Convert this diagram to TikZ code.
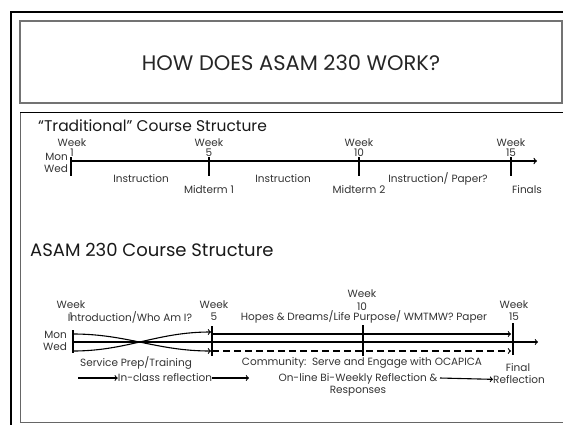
\documentclass[tikz,border=0pt]{standalone}
\usepackage{fontspec}
\setmainfont{Poppins}
\usetikzlibrary{arrows}
\pgfdeclarelayer{nodelayer}
\pgfdeclarelayer{edgelayer}
\pgfsetlayers{edgelayer,nodelayer,main}
\tikzstyle{none}=[fill=none, draw=none, shape=circle, scale=0]
\tikzstyle{small text}=[font=\fontsize{10.5}{12.5}\selectfont, inner sep=0pt, align=center, text=black!80]
\tikzstyle{week text}=[font=\fontsize{10.5}{10.5}\selectfont, inner sep=0pt, align=center, text=black!80]
\tikzstyle{heading}=[font=\fontsize{15.5}{18}\selectfont, inner sep=0pt, anchor=west, text=black!90]
\tikzstyle{title text}=[font=\fontsize{21}{25}\selectfont, inner sep=0pt, text=black!85]
\tikzstyle{tick edge}=[draw=black, line width=1.1pt]
\tikzstyle{time edge}=[draw=black, line width=1.3pt, ->]
\tikzstyle{arrow edge}=[draw=black, line width=1.1pt, ->]
\tikzstyle{dash edge}=[draw=black, line width=1.1pt, dash pattern=on 7pt off 4pt, ->]

\begin{document}
\begin{tikzpicture}[x=10pt, y=10pt]
	\useasboundingbox (0,0) rectangle (56.3,-42.4);
	% slide frames
	\draw [line width=2pt] (1.1,-43) |- (57,-1.2);
	\draw [draw=black!55, line width=1.2pt] (2.0,-10.3) rectangle (56.2,-2.1);
	\draw [draw=black!60, line width=1pt] (57,-42.2) -| (2.0,-11.2);
	\draw [line width=1pt] (2.0,-11.2) -- (57,-11.2);
	\begin{pgfonlayer}{nodelayer}
		\node [style=title text] (0) at (29.1, -6.3) {HOW DOES ASAM 230 WORK?};
		\node [style=heading] (1) at (3.8, -12.6) {“Traditional” Course Structure};
		% traditional
		\node [style=week text] (2) at (7.2, -14.75) {Week\\1};
		\node [style=week text] (3) at (20.9, -14.75) {Week\\5};
		\node [style=week text] (4) at (35.9, -14.75) {Week\\10};
		\node [style=week text] (5) at (51.1, -14.75) {Week\\15};
		\node [style=small text, align=right] (6) at (5.6, -16.3) {Mon\\Wed};
		\node [style=none] (7) at (7.1, -15.7) {};
		\node [style=none] (8) at (7.1, -17.6) {};
		\node [style=none] (9) at (20.9, -15.7) {};
		\node [style=none] (10) at (20.9, -17.6) {};
		\node [style=none] (11) at (35.9, -15.7) {};
		\node [style=none] (12) at (35.9, -17.6) {};
		\node [style=none] (13) at (51.1, -15.7) {};
		\node [style=none] (14) at (51.1, -17.6) {};
		\node [style=none] (15) at (7.1, -16.1) {};
		\node [style=none] (16) at (53.7, -16.1) {};
		\node [style=small text] (17) at (14.1, -17.9) {Instruction};
		\node [style=small text] (18) at (20.9, -19.0) {Midterm 1};
		\node [style=small text] (19) at (28.3, -17.9) {Instruction};
		\node [style=small text] (20) at (35.9, -19.0) {Midterm 2};
		\node [style=small text] (21) at (43.8, -17.9) {Instruction/ Paper?};
		\node [style=small text] (22) at (52.7, -19.0) {Finals};
		% asam 230
		\node [style=heading, font=\fontsize{18}{20}\selectfont] (23) at (3.0, -25.0) {ASAM 230 Course Structure};
		\node [style=small text] (24) at (7.1, -31.05) {Week\\1};
		\node [style=small text] (25) at (13.0, -31.7) {Introduction/Who Am I?};
		\node [style=small text] (26) at (21.4, -31.05) {Week\\5};
		\node [style=small text] (27) at (36.2, -30.0) {Week\\10};
		\node [style=small text] (28) at (36.4, -31.65) {Hopes \& Dreams/Life Purpose/ WMTMW? Paper};
		\node [style=small text] (29) at (51.4, -31.05) {Week\\15};
		\node [style=small text, align=right] (30) at (5.5, -34.1) {Mon\\Wed};
		\node [style=none] (31) at (7.3, -33.0) {};
		\node [style=none] (32) at (7.3, -35.3) {};
		\node [style=none] (33) at (21.2, -32.6) {};
		\node [style=none] (34) at (21.2, -35.6) {};
		\node [style=none] (35) at (36.3, -32.5) {};
		\node [style=none] (36) at (36.3, -35.6) {};
		\node [style=none] (37) at (51.3, -32.3) {};
		\node [style=none] (38) at (51.3, -35.5) {};
		\node [style=none] (39) at (21.2, -33.4) {};
		\node [style=none] (40) at (51.1, -33.4) {};
		\node [style=none] (41) at (7.3, -34.2) {};
		\node [style=none] (42) at (53.8, -34.2) {};
		\node [style=none] (43) at (21.2, -35.1) {};
		\node [style=none] (44) at (51.1, -35.1) {};
		\node [style=none] (45) at (7.3, -33.4) {};
		\node [style=none] (46) at (7.3, -35.1) {};
		\node [style=none] (47) at (21.1, -33.2) {};
		\node [style=none] (48) at (21.1, -35.1) {};
		\node [style=small text] (49) at (13.6, -36.3) {Service Prep/Training};
		\node [style=small text] (50) at (36.2, -36.3) {Community:\ \ Serve and Engage with OCAPICA};
		\node [style=small text] (51) at (51.8, -36.8) {Final};
		\node [style=small text] (52) at (51.9, -38.0) {Reflection};
		\node [style=small text] (53) at (16.5, -37.8) {In-class reflection};
		\node [style=none] (54) at (7.8, -37.8) {};
		\node [style=none] (55) at (24.9, -37.8) {};
		\node [style=small text] (56) at (35.8, -38.5) {On-line Bi-Weekly Reflection \&\\Responses};
		\node [style=none] (57) at (44.0, -37.8) {};
	\end{pgfonlayer}
	\begin{pgfonlayer}{edgelayer}
		\draw [style=tick edge] (7.center) to (8.center);
		\draw [style=tick edge] (9.center) to (10.center);
		\draw [style=tick edge] (11.center) to (12.center);
		\draw [style=tick edge] (13.center) to (14.center);
		\draw [style=time edge] (15.center) to (16.center);
		\draw [style=tick edge] (31.center) to (32.center);
		\draw [style=tick edge] (33.center) to (34.center);
		\draw [style=tick edge] (35.center) to (36.center);
		\draw [style=tick edge] (37.center) to (38.center);
		\draw [style=arrow edge] (39.center) to (40.center);
		\draw [style=arrow edge] (41.center) to (42.center);
		\draw [style=dash edge] (43.center) to (44.center);
		\draw [style=arrow edge, out=0, in=180] (45.center) to (48.center);
		\draw [style=arrow edge, out=0, in=180] (46.center) to (47.center);
		\draw [style=arrow edge] (54.center) to (53);
		\draw [style=arrow edge] (53) to (55.center);
		\draw [style=arrow edge] (57.center) to (52);
	\end{pgfonlayer}
\end{tikzpicture}
\end{document}
